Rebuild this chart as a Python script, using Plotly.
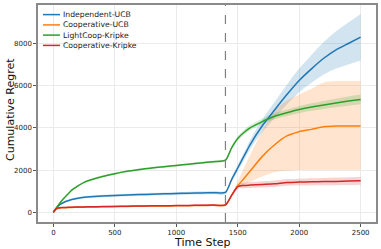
import plotly.graph_objects as go

t = [0, 25, 50, 75, 100, 150, 200, 250, 300, 400, 500, 600, 700, 800, 900, 1000,
     1100, 1200, 1300, 1400, 1450, 1500, 1550, 1600, 1700, 1800, 1900, 2000,
     2100, 2200, 2300, 2400, 2500]

ind_ucb = [0, 200, 350, 440, 510, 610, 670, 710, 740, 775, 800, 820, 840, 858, 875, 890,
           905, 918, 930, 945, 1550, 2100, 2650, 3200, 4100, 4850, 5580, 6250,
           6800, 7300, 7700, 8000, 8300]
ind_ucb_sd = [0, 15, 25, 35, 40, 45, 50, 52, 55, 58, 60, 62, 64, 66, 68, 70,
              72, 74, 76, 80, 100, 150, 180, 220, 300, 380, 470, 560,
              660, 770, 880, 990, 1100]

coop_ucb = [0, 160, 205, 215, 220, 230, 240, 245, 250, 260, 270, 280, 290, 295, 300, 308,
            315, 322, 330, 340, 800, 1250, 1600, 1950, 2650, 3200, 3620, 3820,
            3930, 4050, 4090, 4090, 4090]
coop_ucb_lo = [0, 145, 190, 200, 205, 215, 225, 230, 235, 245, 255, 265, 275, 280, 285, 293,
               300, 307, 315, 325, 780, 1200, 1320, 1450, 1700, 1900, 1970, 2000,
               2000, 2000, 2000, 2000, 2000]
coop_ucb_hi = [0, 175, 220, 230, 235, 245, 255, 260, 265, 275, 285, 295, 305, 310, 315, 323,
               330, 337, 345, 360, 900, 1450, 2100, 2700, 3850, 4800, 5300, 5580,
               5850, 6150, 6220, 6220, 6220]

light_kripke = [0, 220, 420, 600, 750, 1050, 1250, 1420, 1530, 1700, 1830, 1940, 2030, 2100, 2160, 2220,
                2280, 2340, 2400, 2470, 3050, 3500, 3780, 4000, 4300, 4550, 4720, 4870,
                4990, 5090, 5180, 5270, 5350]
light_kripke_sd = [0, 15, 20, 25, 30, 35, 40, 40, 42, 45, 45, 45, 48, 48, 50, 50,
                   50, 50, 52, 55, 80, 100, 110, 120, 130, 140, 155, 170,
                   180, 190, 205, 220, 230]

coop_kripke = [0, 175, 215, 225, 232, 242, 250, 255, 260, 270, 280, 290, 300, 306, 312, 318,
               325, 332, 340, 350, 800, 1220, 1270, 1290, 1320, 1350, 1415, 1430,
               1445, 1455, 1465, 1480, 1500]
coop_kripke_sd = [0, 20, 25, 25, 25, 25, 25, 25, 25, 25, 25, 25, 25, 25, 25, 25,
                  25, 25, 25, 30, 60, 110, 130, 140, 150, 155, 160, 165,
                  170, 175, 180, 185, 190]

x_ticks = [0, 500, 1000, 1500, 2000, 2500]
y_ticks = [0, 2000, 4000, 6000, 8000]
switch_step = 1400

series = [
    ("Independent-UCB", ind_ucb,
     [m - s for m, s in zip(ind_ucb, ind_ucb_sd)], [m + s for m, s in zip(ind_ucb, ind_ucb_sd)],
     "#1f77b4", "rgba(31,119,180,0.2)"),
    ("Cooperative-UCB", coop_ucb, coop_ucb_lo, coop_ucb_hi,
     "#ff7f0e", "rgba(255,127,14,0.2)"),
    ("LightCoop-Kripke", light_kripke,
     [m - s for m, s in zip(light_kripke, light_kripke_sd)],
     [m + s for m, s in zip(light_kripke, light_kripke_sd)],
     "#2ca02c", "rgba(44,160,44,0.2)"),
    ("Cooperative-Kripke", coop_kripke,
     [m - s for m, s in zip(coop_kripke, coop_kripke_sd)],
     [m + s for m, s in zip(coop_kripke, coop_kripke_sd)],
     "#d62728", "rgba(214,39,40,0.2)"),
]

W, H = 381, 249
ML, MR, MT, MB = 38, 5, 5, 27
PW, PH = W - ML - MR, H - MT - MB


def px_x(p):
    return (p - ML) / PW


def px_y(p):
    return (H - MB - p) / PH


fig = go.Figure()
for name, mean, lo, hi, col, fcol in series:
    fig.add_trace(go.Scatter(x=t, y=lo, mode="lines", line=dict(width=0, shape="spline"),
                             showlegend=False, hoverinfo="skip"))
    fig.add_trace(go.Scatter(x=t, y=hi, mode="lines", line=dict(width=0, shape="spline"),
                             fill="tonexty", fillcolor=fcol, showlegend=False, hoverinfo="skip"))
for name, mean, lo, hi, col, fcol in series:
    fig.add_trace(go.Scatter(x=t, y=mean, mode="lines", name=name, showlegend=False,
                             line=dict(color=col, width=1.5, shape="spline", smoothing=0.6)))

fig.add_vline(x=switch_step, line=dict(color="#808080", width=1.2, dash="dash"))

# legend (drawn as a box with line samples and text labels)
shapes = [dict(type="rect", xref="paper", yref="paper",
               x0=px_x(41), x1=px_x(141), y0=px_y(52), y1=px_y(9),
               line=dict(color="#cccccc", width=1), fillcolor="rgba(255,255,255,0.85)",
               layer="above")]
annotations = []
row_y = [14.6, 24.9, 35.1, 45.4]
for (name, mean, lo, hi, col, fcol), ry in zip(series, row_y):
    shapes.append(dict(type="line", xref="paper", yref="paper",
                       x0=px_x(43), x1=px_x(60), y0=px_y(ry), y1=px_y(ry),
                       line=dict(color=col, width=1.5), layer="above"))
    annotations.append(dict(text=name, xref="paper", yref="paper", x=px_x(62), y=px_y(ry),
                            xanchor="left", yanchor="middle", showarrow=False, borderpad=0,
                            font=dict(family="DejaVu Sans", size=7.7, color="#222222")))

annotations += [
    dict(text="Time Step", xref="paper", yref="paper", x=px_x(201.5), y=px_y(242.5),
         xanchor="center", yanchor="middle", showarrow=False, borderpad=0,
         font=dict(family="DejaVu Sans", size=11, color="#111111")),
    dict(text="Cumulative Regret", xref="paper", yref="paper", x=px_x(10), y=px_y(110),
         xanchor="center", yanchor="middle", showarrow=False, textangle=-90, borderpad=0,
         font=dict(family="DejaVu Sans", size=11, color="#111111")),
]

axis_common = dict(showgrid=True, gridcolor="#ebebeb", gridwidth=1, zeroline=False,
                   showline=True, mirror=True, linecolor="#8a8a8a", linewidth=1.5,
                   ticks="outside", ticklen=3, tickcolor="#555555", automargin=False,
                   tickfont=dict(family="DejaVu Sans", size=7, color="#222222"))

fig.update_layout(
    width=W, height=H,
    margin=dict(l=ML, r=MR, t=MT, b=MB),
    plot_bgcolor="white", paper_bgcolor="white",
    font=dict(family="DejaVu Sans", color="#222222"),
    xaxis=dict(range=[-125, 2625], tickvals=x_ticks, **axis_common),
    yaxis=dict(range=[-460, 9825], tickvals=y_ticks, **axis_common),
    showlegend=False,
    shapes=shapes,
    annotations=annotations,
)

fig.write_html("out.html", config={"displayModeBar": False},
               post_script="document.body.style.margin='0px';")
